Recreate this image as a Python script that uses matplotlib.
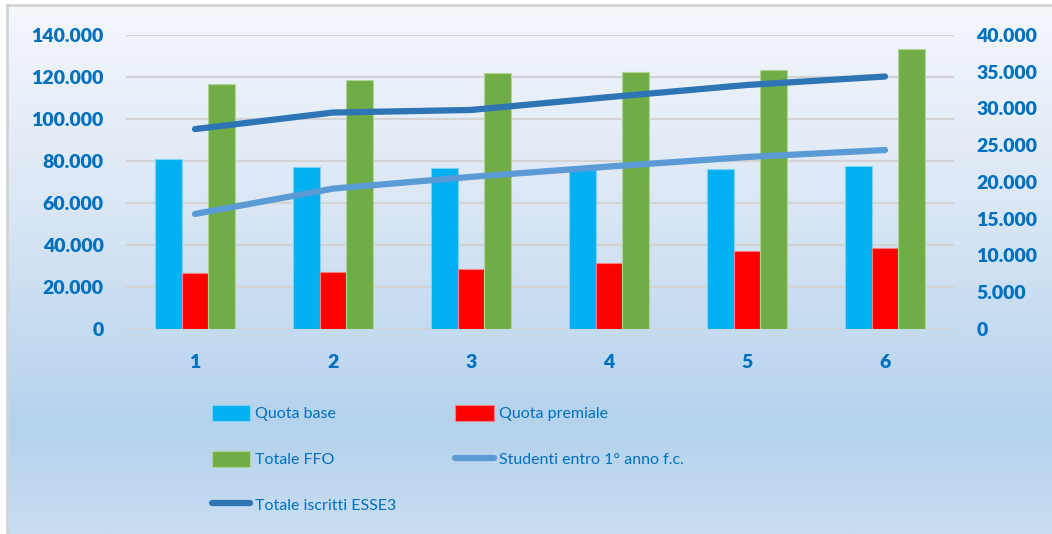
import numpy as np
import matplotlib
matplotlib.use("Agg")
from matplotlib import pyplot as plt
from matplotlib.colors import LinearSegmentedColormap
from matplotlib.ticker import FuncFormatter

categories = ["1", "2", "3", "4", "5", "6"]
quota_base = [80800, 77000, 76500, 75700, 76200, 77600]
quota_premiale = [26800, 27100, 28500, 31300, 37000, 38400]
totale_ffo = [116500, 118600, 121900, 122200, 123500, 133300]
studenti_1fc = [15650, 19100, 20700, 22100, 23400, 24350]
totale_iscritti = [27200, 29450, 29800, 31550, 33200, 34350]

TXT = "#0070C0"
plt.rcParams['font.family'] = ['Lato', 'DejaVu Sans']

fig = plt.figure(figsize=(10.52, 5.34), dpi=100)
fig.patch.set_facecolor("white")

# gradient background with a grey frame
bg = fig.add_axes([7 / 1052, 0, 1 - 7 / 1052, 1 - 5 / 534], zorder=-10)
cmap = LinearSegmentedColormap.from_list(
    "bg", [(0, "#f4f7fc"), (0.35, "#dde8f5"), (0.8, "#b4d2ec"), (1, "#c9ddf1")])
grad = np.linspace(0, 1, 256).reshape(-1, 1)
bg.imshow(grad, aspect="auto", cmap=cmap, extent=[0, 1, 0, 1], origin="upper")
bg.set_xlim(0, 1)
bg.set_ylim(0, 1)
bg.set_xticks([])
bg.set_yticks([])
for s in ["right", "bottom"]:
    bg.spines[s].set_visible(False)
for s in ["left", "top"]:
    bg.spines[s].set_color("#d4d4d4")
    bg.spines[s].set_linewidth(2)

ax = fig.add_axes([126 / 1052, 1 - 329 / 534, 828 / 1052, 294 / 534])
ax.patch.set_alpha(0)
x = np.arange(len(categories))
w = 0.192
b1 = ax.bar(x - w, quota_base, w, color="#00B0F0", edgecolor="#7fd3f4", linewidth=0.8, zorder=3, label="Quota base")
b2 = ax.bar(x, quota_premiale, w, color="#FF0000", edgecolor="#ff8080", linewidth=0.8, zorder=3, label="Quota premiale")
b3 = ax.bar(x + w, totale_ffo, w, color="#70AD47", edgecolor="#b0d39a", linewidth=0.8, zorder=3, label="Totale FFO")
ax.set_xlim(-0.5, len(categories) - 0.5)
ax.set_ylim(0, 140000)
ax.set_yticks(np.arange(0, 140001, 20000))
ax.yaxis.grid(True, color="#d3d3d3", linewidth=1.6, zorder=0)
ax.set_axisbelow(True)
for s in ax.spines.values():
    s.set_visible(False)
fmt = FuncFormatter(lambda v, p: f"{int(v):,}".replace(",", "."))
ax.yaxis.set_major_formatter(fmt)
ax.set_xticks(x)
ax.set_xticklabels(categories)
ax.tick_params(axis="both", length=0, colors=TXT, labelsize=14)
ax.tick_params(axis="y", pad=16)
ax.tick_params(axis="x", pad=18)
for t in ax.get_xticklabels() + ax.get_yticklabels():
    t.set_fontweight("heavy")

ax2 = ax.twinx()
ax2.set_ylim(0, 40000)
ax2.set_yticks(np.arange(0, 40001, 5000))
ax2.yaxis.set_major_formatter(fmt)
for s in ax2.spines.values():
    s.set_visible(False)
ax2.tick_params(axis="y", length=0, colors=TXT, labelsize=14, pad=16)
for t in ax2.get_yticklabels():
    t.set_fontweight("heavy")
l1, = ax2.plot(x, studenti_1fc, color="#5B9BD5", linewidth=4.5, solid_capstyle="round", solid_joinstyle="round", label="Studenti entro 1° anno f.c.")
l2, = ax2.plot(x, totale_iscritti, color="#2E75B6", linewidth=4.5, solid_capstyle="round", solid_joinstyle="round", label="Totale iscritti ESSE3")

handles = [b1, b3, l2, b2, l1]
labels = [h.get_label() for h in handles]
leg = fig.legend(handles, labels, ncol=2, loc="upper left",
                 bbox_to_anchor=(204 / 1052, 1 - 397 / 534), frameon=False,
                 fontsize=11.5, labelcolor=TXT, handlelength=2.4, handleheight=1.15,
                 handletextpad=0.3, columnspacing=3.7, labelspacing=1.85,
                 borderpad=0)

fig.savefig("out.png", dpi=100)
